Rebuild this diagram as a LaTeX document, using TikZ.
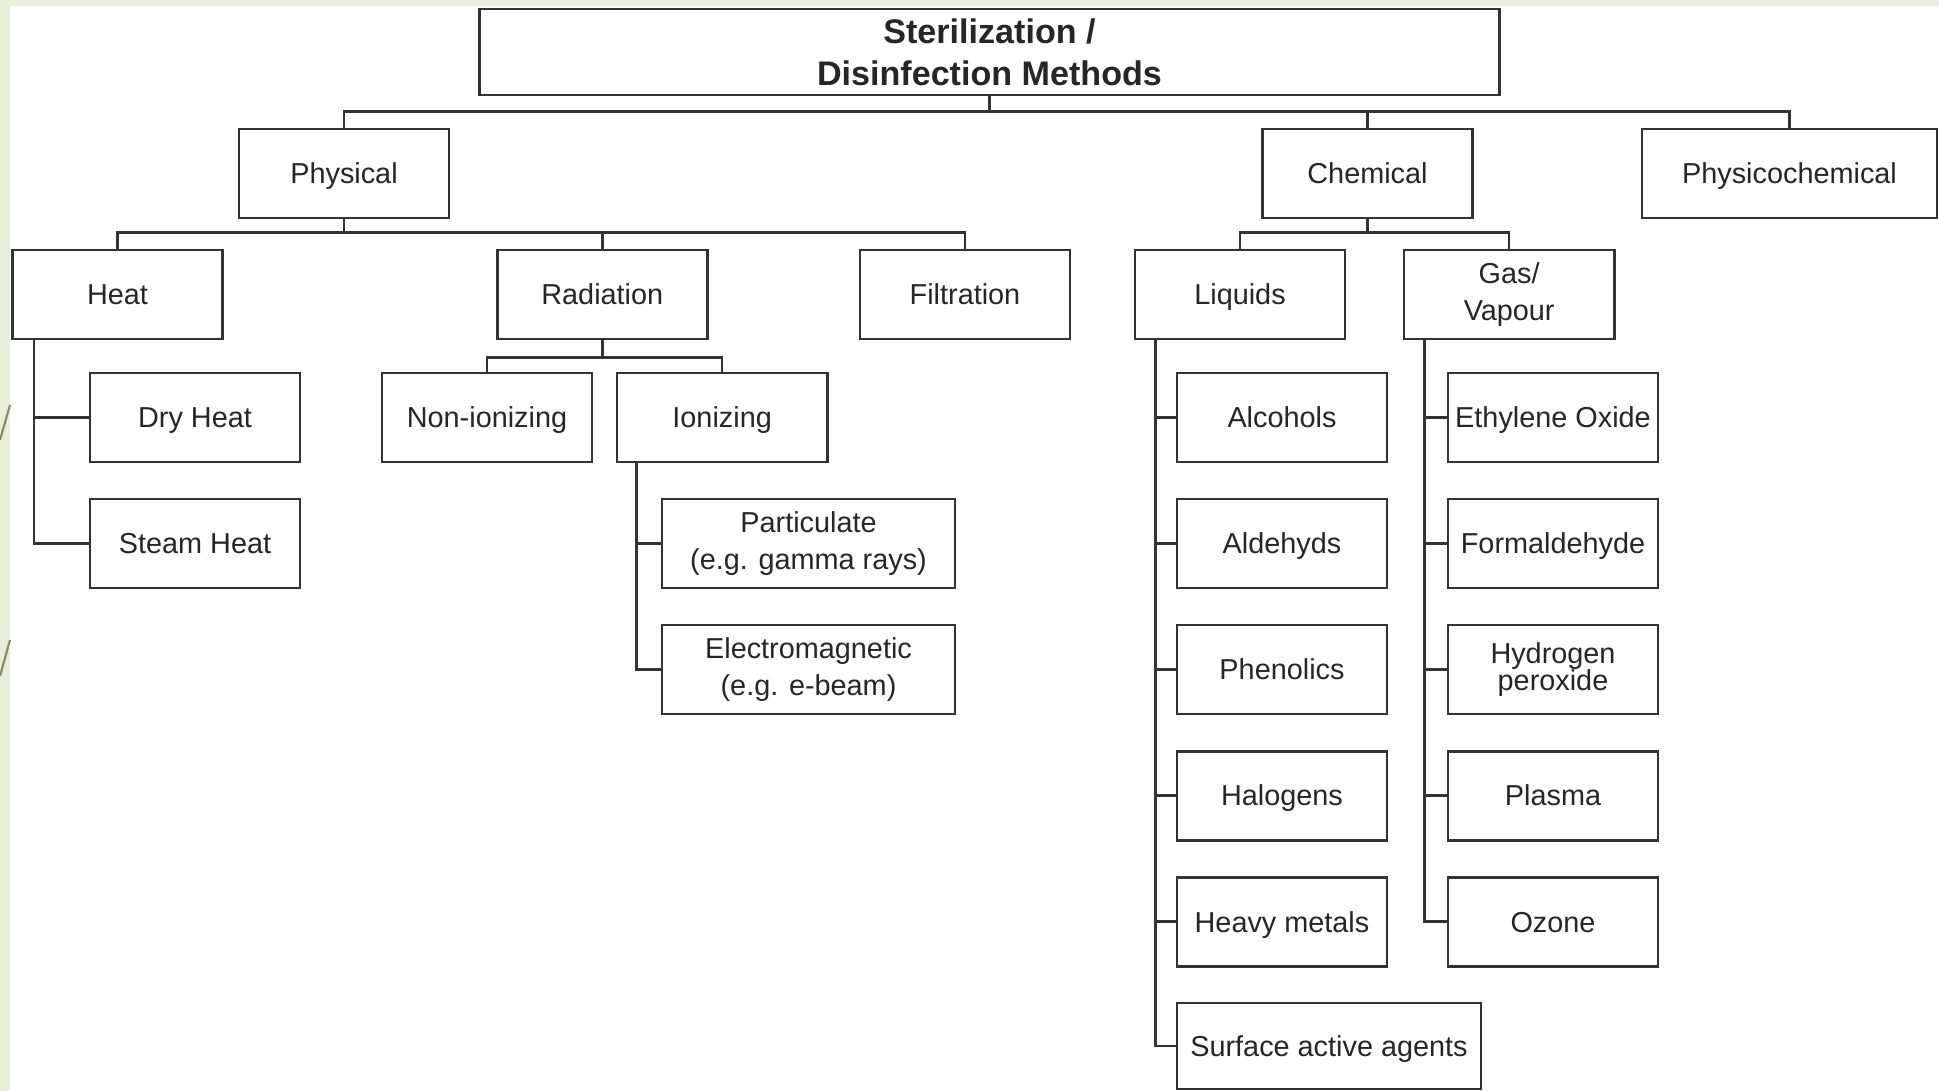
\documentclass[tikz,border=0pt]{standalone}
\usepackage{xcolor}
\usepackage{fontspec}
\setmainfont{Liberation Sans}
\usepackage{tikz}
\usetikzlibrary{shapes,arrows}
\definecolor{slidegreen}{HTML}{E8EED8}
\definecolor{slideline}{HTML}{8C8A66}
\definecolor{boxline}{HTML}{333333}
\tikzstyle{box base} = [rectangle, draw=boxline, line width=0.75pt, text=black!85,
    align=center, minimum width=2.1cm, minimum height=0.89cm, inner sep=1pt,
    font=\fontsize{8.2}{10.5}\selectfont]
\tikzstyle{block} = [box base, text height=1.55ex, text depth=0.45ex]
\tikzstyle{tall block} = [box base]
\tikzstyle{title block} = [box base, minimum width=10.19cm, minimum height=0.86cm,
    font=\fontsize{9.7}{12}\selectfont\bfseries]
\tikzstyle{wide block} = [tall block, minimum width=2.93cm]
\tikzstyle{line} = [draw=boxline, line width=0.75pt]

\begin{document}
\begin{tikzpicture}[x=0.01cm, y=-0.01cm, auto]
    \useasboundingbox (0,0) rectangle (1939,1091);
    % slide background
    \fill [slidegreen] (0,0) rectangle (1939,1091);
    \fill [white] (10,6) rectangle (1939,1091);
    \draw [slideline, line width=0.6pt] (10,405) -- (0,440);
    \draw [slideline, line width=0.6pt] (10,640) -- (0,676);

    % Place nodes
    \node [title block] (methods) at (989.5,52) {Sterilization /\\Disinfection Methods};

    \node [block] (physical) at (344,173.5) {Physical};
    \node [block] (chemical) at (1367.5,173.5) {Chemical};
    \node [block, minimum width=2.95cm] (physicochemical) at (1789.5,173.5) {Physicochemical};

    \node [block] (heat) at (117.5,294.5) {Heat};
    \node [block, right of=heat, node distance=4.845cm] (radiation) {Radiation};
    \node [block, right of=radiation, node distance=3.625cm] (filtration) {Filtration};
    \node [block] (liquids) at (1240,294.5) {Liquids};
    \node [tall block, right of=liquids, node distance=2.69cm] (gas) {Gas/\\Vapour};

    \node [block] (dry_heat) at (195,417.5) {Dry Heat};
    \node [block, below of=dry_heat, node distance=1.26cm] (steam_heat) {Steam Heat};

    \node [block] (non_ionizing) at (487,417.5) {Non-ionizing};
    \node [block, right of=non_ionizing, node distance=2.35cm] (ionizing) {Ionizing};
    \node [wide block] (particulate) at (808.5,543.5) {Particulate\\(e.g. gamma rays)};
    \node [wide block, below of=particulate, node distance=1.26cm] (electromagnetic) {Electromagnetic\\(e.g. e-beam)};

    \node [block] (alcohols) at (1282,417.5) {Alcohols};
    \node [block, below of=alcohols, node distance=1.26cm] (aldehyds) {Aldehyds};
    \node [block, below of=aldehyds, node distance=1.26cm] (phenolics) {Phenolics};
    \node [block, below of=phenolics, node distance=1.26cm] (halogens) {Halogens};
    \node [block, below of=halogens, node distance=1.26cm] (heavy_metals) {Heavy metals};
    \node [block, minimum width=3.04cm, minimum height=0.86cm] (surface_agents) at (1329,1046) {Surface active agents};

    \node [block] (ethylene_oxide) at (1553,417.5) {Ethylene Oxide};
    \node [block, below of=ethylene_oxide, node distance=1.26cm] (formaldehyde) {Formaldehyde};
    \node [tall block, below of=formaldehyde, node distance=1.26cm] (hydrogen_peroxide) {Hydrogen\\[-3pt]peroxide};
    \node [block, below of=hydrogen_peroxide, node distance=1.26cm] (plasma) {Plasma};
    \node [block, below of=plasma, node distance=1.26cm] (ozone) {Ozone};

    % Draw edges
    \path [line] (methods.south) -- ++(0,15) -| (physical.north);
    \path [line] (methods.south) -- ++(0,15) -| (chemical.north);
    \path [line] (methods.south) -- ++(0,15) -| (physicochemical.north);

    \path [line] (physical.south) -- ++(0,13) -| (heat.north);
    \path [line] (physical.south) -- ++(0,13) -| (radiation.north);
    \path [line] (physical.south) -- ++(0,13) -| (filtration.north);

    \path [line] (chemical.south) -- ++(0,13) -| (liquids.north);
    \path [line] (chemical.south) -- ++(0,13) -| (gas.north);

    \path [line] ([xshift=0.23cm]heat.south west) |- (dry_heat.west);
    \path [line] ([xshift=0.23cm]heat.south west) |- (steam_heat.west);

    \path [line] (radiation.south) -- ++(0,17) -| (non_ionizing.north);
    \path [line] (radiation.south) -- ++(0,17) -| (ionizing.north);
    \path [line] ([xshift=0.21cm]ionizing.south west) |- (particulate.west);
    \path [line] ([xshift=0.21cm]ionizing.south west) |- (electromagnetic.west);

    \path [line] ([xshift=0.22cm]liquids.south west) |- (alcohols.west);
    \path [line] ([xshift=0.22cm]liquids.south west) |- (aldehyds.west);
    \path [line] ([xshift=0.22cm]liquids.south west) |- (phenolics.west);
    \path [line] ([xshift=0.22cm]liquids.south west) |- (halogens.west);
    \path [line] ([xshift=0.22cm]liquids.south west) |- (heavy_metals.west);
    \path [line] ([xshift=0.22cm]liquids.south west) |- (surface_agents.west);

    \path [line] ([xshift=0.22cm]gas.south west) |- (ethylene_oxide.west);
    \path [line] ([xshift=0.22cm]gas.south west) |- (formaldehyde.west);
    \path [line] ([xshift=0.22cm]gas.south west) |- (hydrogen_peroxide.west);
    \path [line] ([xshift=0.22cm]gas.south west) |- (plasma.west);
    \path [line] ([xshift=0.22cm]gas.south west) |- (ozone.west);

\end{tikzpicture}
\end{document}
